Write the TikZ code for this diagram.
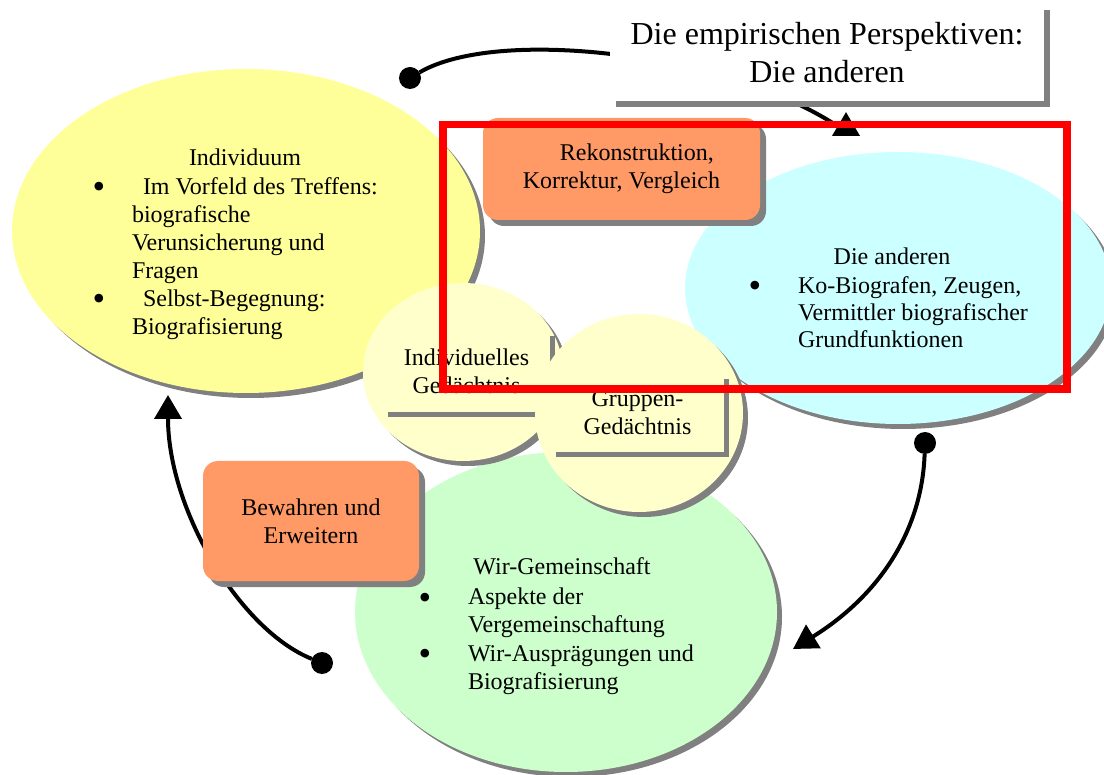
\documentclass[tikz,border=0pt]{standalone}
\usepackage{fontspec}
\setmainfont{Liberation Serif}
\usetikzlibrary{shapes.geometric,shadows,arrows.meta}
\definecolor{cYel}{HTML}{FFFF99}
\definecolor{cCyan}{HTML}{CCFFFF}
\definecolor{cGreen}{HTML}{CCFFCC}
\definecolor{cPale}{HTML}{FFFFCC}
\definecolor{cOrange}{HTML}{FF9966}
\definecolor{cShadow}{HTML}{808080}
\begin{document}
\begin{tikzpicture}[x=1pt,y=-1pt,
  every node/.style={font=\fontsize{24}{28}\selectfont, inner sep=0pt, outer sep=0pt},
  shad/.style={drop shadow={shadow xshift=#1, shadow yshift=-#1, fill=cShadow, opacity=1}},
  ell/.style={ellipse, fill=#1, shad=5pt},
  pbox/.style={rectangle, fill=cPale, shad=5pt, align=center},
  obox/.style={rectangle, rounded corners=15pt, fill=cOrange, shad=6pt},
  dotn/.style={circle, fill=black, minimum size=22pt},
  conn/.style={line width=4pt, -{Triangle[length=24pt,width=27pt]}},
  bul/.style={anchor=base, font=\fontsize{36}{28}\selectfont},
  txt/.style={anchor=base west},
  ctr/.style={anchor=base}
]
\useasboundingbox (0,0) rectangle (1104,775);

% big ellipses
\node[ell=cYel, minimum width=468, minimum height=324] (indiv) at (246,231) {};
\node[ell=cCyan, minimum width=426, minimum height=272] (andere) at (898,288) {};
\node[ell=cGreen, minimum width=422, minimum height=320] (wir) at (566,612) {};

% memory circles
\node[ell=cPale, minimum width=200, minimum height=178] (igm) at (463,372) {};
\node[pbox, minimum width=167, minimum height=81] (igmbox) at (466.5,371.5) {Individuelles\\Gedächtnis};
\node[ell=cPale, minimum width=208, minimum height=198] (ggm) at (639,413) {};
\node[pbox, minimum width=173, minimum height=78] (ggmbox) at (637.5,413) {Gruppen-\\Gedächtnis};

% connectors
\node[dotn] (d1) at (410,78) {};
\coordinate (t1) at (846,112);
\draw[conn] (d1) .. controls (500,25) and (740,55) .. (846,132) -- (t1);

\node[dotn] (d2) at (925,443) {};
\coordinate (t2) at (793,649);
\draw[conn] (d2) .. controls (922,530) and (880,595) .. (t2);

\node[dotn] (d3) at (322,663) {};
\coordinate (t3) at (168,395);
\draw[conn] (d3) .. controls (240,630) and (168,510) .. (t3);

% orange boxes
\node[obox, minimum width=277, minimum height=102, align=left] (rek) at (621.5,169)
  {\hspace*{37pt}Rekonstruktion,\\Korrektur, Vergleich};
\node[obox, minimum width=216, minimum height=120, align=center] (bew) at (311,521)
  {Bewahren und\\Erweitern};

% title box
\node[rectangle, fill=white, shad=6pt, minimum width=434, minimum height=97, align=center,
      font=\fontsize{32}{37.5}\selectfont] (title) at (827,52.5)
  {Die empirischen Perspektiven:\\Die anderen};

% texts: Individuum
\node[ctr] (iT) at (245,166) {Individuum};
\node[bul] (iB1) at (99,199) {•};
\node[txt] (iL1) at (143,195) {Im Vorfeld des Treffens:};
\node[txt] (iL2) at (132,223) {biografische};
\node[txt] (iL3) at (132,251) {Verunsicherung und};
\node[txt] (iL4) at (132,279) {Fragen};
\node[bul] (iB2) at (99,311) {•};
\node[txt] (iL5) at (143,307) {Selbst-Begegnung:};
\node[txt] (iL6) at (132,335) {Biografisierung};

% texts: Die anderen
\node[ctr] (aT) at (892,265) {Die anderen};
\node[bul] (aB1) at (755,298) {•};
\node[txt] (aL1) at (798,294) {Ko-Biografen, Zeugen,};
\node[txt] (aL2) at (798,321) {Vermittler biografischer};
\node[txt] (aL3) at (798,348) {Grundfunktionen};

% texts: Wir-Gemeinschaft
\node[ctr] (wT) at (562,575) {Wir-Gemeinschaft};
\node[bul] (wB1) at (425,609) {•};
\node[txt] (wL1) at (468,605) {Aspekte der};
\node[txt] (wL2) at (468,632) {Vergemeinschaftung};
\node[bul] (wB2) at (425,665) {•};
\node[txt] (wL3) at (468,661) {Wir-Ausprägungen und};
\node[txt] (wL4) at (468,689) {Biografisierung};

% red highlight
\draw[red, line width=7.5pt] (443,124.5) rectangle (1067,389);
\end{tikzpicture}
\end{document}
